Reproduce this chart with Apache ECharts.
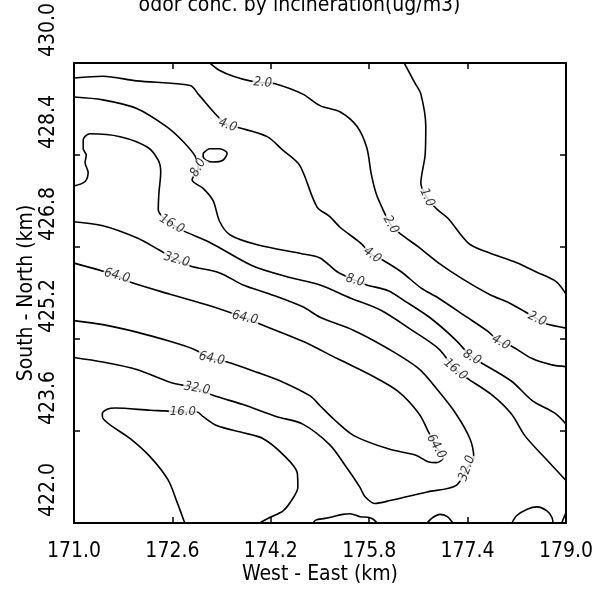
<!DOCTYPE html>
<html>
<head>
<meta charset="utf-8">
<script src="https://cdn.jsdelivr.net/npm/echarts@6/dist/echarts.min.js"></script>
<style>
  html, body { margin: 0; padding: 0; background: #fff; }
  #chart { width: 599px; height: 592px; }
</style>
</head>
<body>
<div id="chart"></div>
<script>
var FONT = '"Liberation Sans Narrow", "DejaVu Sans Condensed", "Roboto", sans-serif';

// axis ticks (km)
var xTicks = [171.0, 172.6, 174.2, 175.8, 177.4, 179.0];
var yTicks = [422.0, 423.6, 425.2, 426.8, 428.4, 430.0];

// contour lines, [west-east km, south-north km]
var c1 = [[176.37,430],[176.54,429.66],[176.64,429.46],[176.72,428.90],[176.71,428.41],[176.64,427.91],
  [176.74,427.66],[176.90,427.46],[177.08,427.30],[177.42,426.86],[177.75,426.70],[178.19,426.53],
  [178.51,426.37],[178.84,426.20],[179,425.98]];
var c2 = [[173.21,430],[173.37,429.87],[173.59,429.77],[173.86,429.69],[174.07,429.66],[174.27,429.64],
  [174.72,429.46],[175.00,429.26],[175.33,429.15],[175.60,428.90],[175.76,428.53],[175.83,428.09],
  [175.91,427.74],[176.02,427.46],[176.15,427.19],[176.32,427.02],[176.59,426.81],[176.92,426.53],
  [177.31,426.25],[177.75,425.98],[178.11,425.81],[178.53,425.55],[178.66,425.47],[179,425.39]];
var c4 = [[171,429.74],[171.47,429.77],[172.02,429.69],[172.89,429.61],[173.02,429.46],[173.33,429.08],
  [173.50,428.92],[173.70,428.87],[174.14,428.72],[174.40,428.48],[174.67,428.22],[174.95,427.50],
  [175.16,427.33],[175.33,427.14],[175.67,426.86],[175.85,426.66],[176.01,426.58],[176.32,426.37],
  [176.64,426.09],[176.93,425.91],[177.39,425.58],[177.72,425.34],[177.94,425.14],[178.11,425.08],
  [178.45,424.86],[178.77,424.75],[179,424.72]];
var c8 = [[171,429.41],[171.47,429.36],[172.02,429.21],[172.51,428.89],[172.77,428.64],[172.97,428.38],
  [173.02,428.18],[172.92,427.97],[173.10,427.82],[173.26,427.61],[173.37,427.24],[173.54,427.01],
  [173.98,426.84],[174.72,426.68],[175.00,426.61],[175.28,426.37],[175.57,426.22],[175.76,426.14],
  [176.11,426.04],[176.38,425.86],[176.79,425.57],[177.20,425.19],[177.47,424.88],[177.60,424.80],
  [178.11,424.47],[178.45,424.13],[178.82,423.91],[179,423.72]];
var c8loop = [[173.10,428.43],[173.21,428.51],[173.37,428.51],[173.49,428.43],[173.42,428.31],
  [173.26,428.28],[173.16,428.30],[173.10,428.38],[173.10,428.43]];
var c16 = [[171,427.86],[171.18,427.94],[171.23,428.10],[171.18,428.27],[171.20,428.40],[171.15,428.51],
  [171.15,428.67],[171.26,428.77],[171.75,428.72],[172.19,428.54],[172.37,428.31],[172.41,428.10],
  [172.38,427.73],[172.37,427.45],[172.48,427.28],[172.59,427.20],[172.76,427.09],[173.21,426.88],
  [173.91,426.47],[174.51,426.27],[175.00,426.14],[175.50,425.91],[175.99,425.70],[176.50,425.35],
  [176.93,425.03],[177.20,424.67],[177.39,424.52],[177.78,424.24],[178.11,423.90],[178.33,423.52],
  [178.66,423.13],[179,422.74]];
var c32 = [[171,427.24],[171.47,427.17],[172.02,426.96],[172.40,426.74],[172.67,426.58],[172.89,426.47],
  [173.37,426.35],[173.75,426.14],[174.19,425.98],[174.72,425.76],[175.00,425.58],[175.55,425.35],
  [176.11,425.03],[176.61,424.68],[176.93,424.29],[177.21,423.90],[177.44,423.46],[177.50,423.13],
  [177.39,422.95],[177.21,422.65],[176.74,422.54],[176.14,422.39],[175.89,422.34],[175.73,422.46],
  [175.65,422.62],[175.41,423.00],[175.16,423.36],[174.72,423.72],[174.30,423.85],[173.75,424.06],
  [173.26,424.22],[173.00,424.34],[172.56,424.45],[172.02,424.67],[171.47,424.80],[171,424.88]];
var c64 = [[171,426.52],[171.47,426.38],[171.70,426.30],[171.91,426.19],[172.56,425.98],[173.21,425.78],
  [173.78,425.57],[173.98,425.48],[174.72,425.16],[175.28,424.86],[175.83,424.57],[176.27,424.29],
  [176.61,423.90],[176.77,423.57],[176.89,423.33],[177.00,423.13],[176.89,423.05],[176.77,423.06],
  [176.56,423.18],[176.11,423.29],[175.55,423.52],[175.23,423.80],[175.00,424.04],[174.84,424.21],
  [174.40,424.45],[173.98,424.62],[173.49,424.80],[173.24,424.86],[172.93,425.03],[172.56,425.16],
  [172.02,425.32],[171.47,425.45],[171,425.52]];
var c16low = [[172.80,422.00],[172.67,422.38],[172.53,422.75],[172.24,423.15],[171.91,423.47],
  [171.47,423.82],[171.46,423.90],[171.54,423.98],[171.67,424.00],[172.24,423.96],[172.48,423.95],
  [172.77,423.93],[173.00,423.93],[173.10,423.85],[173.33,423.69],[173.75,423.57],[174.07,423.47],
  [174.40,423.19],[174.63,422.87],[174.64,422.62],[174.56,422.43],[174.40,422.21],[174.19,422.10],
  [174.02,422.00]];
var bumpA = [[174.89,422],[174.93,422.05],[175.08,422.08],[175.21,422.11],[175.37,422.15],[175.49,422.16],
  [175.65,422.11],[175.78,422.10],[175.86,422.07],[175.93,422]];
var bumpB = [[176.74,422],[176.84,422.10],[176.95,422.15],[177.07,422.11],[177.16,422]];
var bumpC = [[178.12,422],[178.20,422.13],[178.37,422.24],[178.53,422.28],[178.69,422.21],[178.77,422.10],[178.79,422]];
var bumpD = [[178.93,422],[179,422.18]];

// contour labels [x, y, text]
var labels = [
  [174.07,429.66,'2.0'], [176.15,427.19,'2.0'], [178.53,425.55,'2.0'], [176.74,427.66,'1.0'],
  [173.50,428.92,'4.0'], [175.85,426.66,'4.0'], [177.94,425.14,'4.0'],
  [173.02,428.18,'8.0'], [175.57,426.22,'8.0'], [177.47,424.88,'8.0'],
  [172.59,427.20,'16.0'], [177.20,424.67,'16.0'], [172.77,423.93,'16.0'],
  [172.67,426.58,'32.0'], [173.00,424.34,'32.0'], [177.39,422.95,'32.0'],
  [171.70,426.30,'64.0'], [173.78,425.57,'64.0'], [173.24,424.86,'64.0'], [176.89,423.33,'64.0']
];
var labelRot = [-5, -60, -25, -65, -20, -35, -30, 60, -15, -30, -30, -40, 0, -15, -10, 70, -15, -12, -12, -60];

var lines = [c1, c2, c4, c8, c8loop, c16, c32, c64, c16low, bumpA, bumpB, bumpC, bumpD];

var chart = echarts.init(document.getElementById('chart'));

var series = lines.map(function (d) {
  return {
    type: 'line',
    data: d,
    showSymbol: false,
    smooth: 0.3,
    silent: true,
    lineStyle: { color: '#000', width: 1.6 },
    z: 2
  };
});

series.push({
  type: 'scatter',
  symbolSize: 0,
  silent: true,
  z: 5,
  data: labels.map(function (l, i) {
    return {
      value: [l[0], l[1]],
      label: {
        show: true,
        position: 'inside',
        formatter: l[2],
        rotate: labelRot[i],
        color: '#000',
        fontSize: 13,
        fontStyle: 'italic',
        fontFamily: FONT,
        backgroundColor: '#fff',
        padding: [0, 1]
      }
    };
  })
});

var tickStyle = { show: true, inside: true, length: 6, lineStyle: { color: '#000', width: 1.5 } };
var lineStyle = { show: true, lineStyle: { color: '#000', width: 2 } };

var option = {
  animation: false,
  backgroundColor: '#fff',
  title: {
    text: 'odor conc. by incineration(ug/m3)',
    left: 'center',
    top: -5,
    padding: 0,
    textStyle: { fontFamily: FONT, fontSize: 21, fontWeight: 'normal', color: '#000' }
  },
  grid: { left: 74, right: 33, top: 34, bottom: 69 },
  xAxis: [{
    type: 'value',
    min: xTicks[0],
    max: xTicks[xTicks.length - 1],
    interval: 1.6,
    name: 'West - East (km)',
    nameLocation: 'middle',
    nameGap: 41,
    nameMoveOverlap: false,
    nameTextStyle: { fontFamily: FONT, fontSize: 21, color: '#000' },
    axisLine: lineStyle,
    axisTick: tickStyle,
    splitLine: { show: false },
    axisLabel: {
      margin: 18,
      fontFamily: FONT, fontSize: 21, color: '#000',
      formatter: function (v) { return v.toFixed(1); }
    }
  }, {
    type: 'value', position: 'top',
    min: xTicks[0], max: xTicks[xTicks.length - 1], interval: 1.6,
    axisLine: lineStyle, axisTick: tickStyle, splitLine: { show: false }, axisLabel: { show: false }
  }],
  yAxis: [{
    type: 'value',
    min: yTicks[0],
    max: yTicks[yTicks.length - 1],
    interval: 1.6,
    name: 'South - North (km)',
    nameLocation: 'middle',
    nameGap: 37,
    nameMoveOverlap: false,
    nameTextStyle: { fontFamily: FONT, fontSize: 21, color: '#000' },
    axisLine: lineStyle,
    axisTick: tickStyle,
    splitLine: { show: false },
    axisLabel: {
      margin: 15,
      rotate: 90,
      align: 'left',
      verticalAlign: 'bottom',
      padding: [0, 0, 0, 6],
      fontFamily: FONT, fontSize: 21, color: '#000',
      formatter: function (v) { return v.toFixed(1); }
    }
  }, {
    type: 'value', position: 'right',
    min: yTicks[0], max: yTicks[yTicks.length - 1], interval: 1.6,
    axisLine: lineStyle, axisTick: tickStyle, splitLine: { show: false }, axisLabel: { show: false }
  }],
  series: series
};

chart.setOption(option);
</script>
</body>
</html>
